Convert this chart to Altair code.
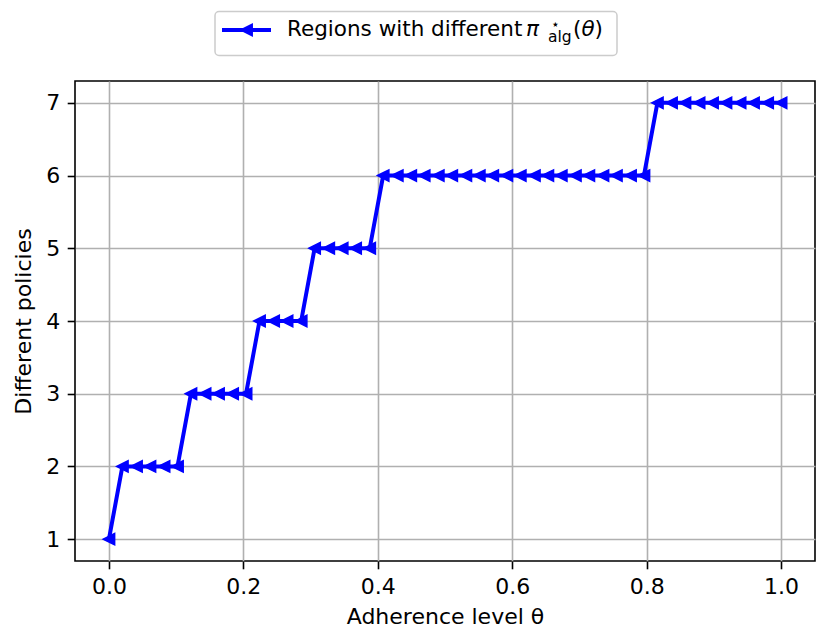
import altair as alt
import pandas as pd

# ---- data ----
theta = [0.000, 0.020, 0.041, 0.061, 0.082, 0.102, 0.122, 0.143, 0.163, 0.184,
         0.204, 0.224, 0.245, 0.265, 0.286, 0.306, 0.327, 0.347, 0.367, 0.388,
         0.408, 0.429, 0.449, 0.469, 0.490, 0.510, 0.531, 0.551, 0.571, 0.592,
         0.612, 0.633, 0.653, 0.673, 0.694, 0.714, 0.735, 0.755, 0.776, 0.796,
         0.816, 0.837, 0.857, 0.878, 0.898, 0.918, 0.939, 0.959, 0.980, 1.000]
policies = [1, 2, 2, 2, 2, 2, 3, 3, 3, 3,
            3, 4, 4, 4, 4, 5, 5, 5, 5, 5,
            6, 6, 6, 6, 6, 6, 6, 6, 6, 6,
            6, 6, 6, 6, 6, 6, 6, 6, 6, 6,
            7, 7, 7, 7, 7, 7, 7, 7, 7, 7]
x_ticks = [0.0, 0.2, 0.4, 0.6, 0.8, 1.0]
y_ticks = [1, 2, 3, 4, 5, 6, 7]
legend_main = "Regions with different"
legend_pi = "π"
legend_sup = "⋆"
legend_sub = "alg"
legend_arg = ["(", "θ", ")"]

df = pd.DataFrame({"theta": theta, "policies": policies})

FONT = "DejaVu Sans"
FS = 22
LFS = 21.5
BLUE = "#0000ff"
TRI = "M-1,0L1,-1L1,1Z"

xs = alt.Scale(domain=[-0.0505, 1.0505], nice=False, zero=False)
ys = alt.Scale(domain=[0.7, 7.3], nice=False, zero=False)

base = alt.Chart(df).encode(
    x=alt.X("theta:Q", scale=xs,
            axis=alt.Axis(values=x_ticks, format=".1f", title="Adherence level θ")),
    y=alt.Y("policies:Q", scale=ys,
            axis=alt.Axis(values=y_ticks, format="d", title="Different policies")),
)

line = base.mark_line(color=BLUE, strokeWidth=4)
pts = base.mark_point(shape=TRI, size=130, filled=True, fill=BLUE,
                      stroke=BLUE, strokeWidth=1.5, opacity=1)

# ---- legend (drawn as marks) ----
one = alt.Chart(pd.DataFrame({"k": [0]}))
box = one.mark_rect(fill="white", stroke="#cccccc", strokeWidth=1.5,
                    cornerRadius=4).encode(
    x=alt.value(140), x2=alt.value(542), y=alt.value(-69.5), y2=alt.value(-25.5))
lg_line = one.mark_rule(color=BLUE, strokeWidth=4).encode(
    x=alt.value(147), x2=alt.value(196), y=alt.value(-51))
lg_pt = one.mark_point(shape=TRI, size=130, filled=True, fill=BLUE, stroke=BLUE,
                       strokeWidth=1.5, opacity=1).encode(
    x=alt.value(171.5), y=alt.value(-51))

def txt(s, x, y, size=LFS, style="normal"):
    return one.mark_text(text=s, font=FONT, fontSize=size, fontStyle=style,
                         align="left", baseline="alphabetic", color="black").encode(
        x=alt.value(x), y=alt.value(y))

lg_texts = [
    txt(legend_main, 212, -45),
    txt(legend_pi, 451, -45, style="italic"),
    txt(legend_sup, 476, -52, size=14),
    txt(legend_sub, 473, -39, size=15.5),
    txt(legend_arg[0], 498, -45),
    txt(legend_arg[1], 506.5, -45, style="italic"),
    txt(legend_arg[2], 519.5, -45),
]

chart = alt.layer(line, pts, box, lg_line, lg_pt, *lg_texts).properties(
    width=740, height=480,
    autosize=alt.AutoSizeParams(type="none"),
    padding={"left": 67, "top": 73, "right": 8, "bottom": 72},
).configure_view(
    stroke="black", strokeWidth=1.6
).configure_axis(
    domain=False, grid=True, gridColor="#b0b0b0", gridWidth=1.6,
    tickColor="black", tickSize=7.8, tickWidth=1.6,
    labelFont=FONT, labelFontSize=FS, labelColor="black",
    titleFont=FONT, titleFontSize=FS, titleFontWeight="normal", titleColor="black",
).configure_axisX(
    labelPadding=8, titlePadding=9
).configure_axisY(
    labelPadding=7.5, titlePadding=10
)

chart.save("out.html", embed_options={"renderer": "svg", "actions": False})
